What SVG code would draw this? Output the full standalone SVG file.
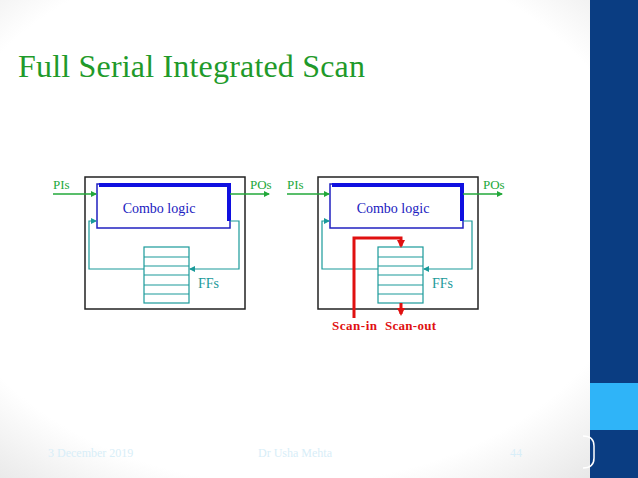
<svg xmlns="http://www.w3.org/2000/svg" width="638" height="478" viewBox="0 0 638 478">
<defs>
<radialGradient id="bg" cx="0.45" cy="0.45" r="0.75"><stop offset="0.75" stop-color="#fff"/><stop offset="1" stop-color="#e4e4e4"/></radialGradient>
<marker id="ag" markerWidth="6" markerHeight="6" refX="5" refY="3" orient="auto" markerUnits="userSpaceOnUse"><path d="M0,0L6,3L0,6z" fill="#22a83a"/></marker>
<marker id="at" markerWidth="6" markerHeight="6" refX="5" refY="3" orient="auto" markerUnits="userSpaceOnUse"><path d="M0,0L6,3L0,6z" fill="#1a9a9a"/></marker>
<marker id="ar" markerWidth="8" markerHeight="8" refX="6" refY="4" orient="auto" markerUnits="userSpaceOnUse"><path d="M0,0L8,4L0,8z" fill="#e01010"/></marker>
</defs>
<style>
.t{font-family:"Liberation Serif",serif}
.box{fill:none;stroke:#222;stroke-width:1.5}
.cl{fill:#fff;stroke:#2020c0;stroke-width:1.5}
.thick{fill:none;stroke:#1010e0;stroke-width:4}
.g{stroke:#22a83a;stroke-width:1.5;fill:none}
.tl{stroke:#1a9a9a;stroke-width:1.2;fill:none}
.ff{fill:#fff;stroke:#1a9a9a;stroke-width:1.2}
.red{stroke:#e01010;stroke-width:3;fill:none}
</style>
<rect width="638" height="478" fill="url(#bg)"/>
<rect x="590" y="0" width="48" height="478" fill="#0a3d82"/>
<rect x="590" y="383" width="48" height="47" fill="#2fb4f8"/>
<path d="M583,436 Q594,436 594,446 V458 Q594,468 583,468" fill="none" stroke="#fff" stroke-width="1.5"/>
<text class="t" x="18" y="77" font-size="32" textLength="347" fill="#1f9a2a">Full Serial Integrated Scan</text>
<g class="t" font-size="12" fill="#d8eef8">
<text x="48" y="457">3 December 2019</text>
<text x="258" y="457">Dr Usha Mehta</text>
<text x="510" y="457">44</text>
</g>
<g id="left">
<rect class="box" x="85" y="177" width="160" height="132"/>
<rect class="cl" x="97" y="184" width="133" height="44"/>
<path class="thick" d="M99,185H229V221"/>
<text class="t" x="159" y="213" font-size="14" fill="#2020c0" text-anchor="middle">Combo logic</text>
<g id="ffl">
<rect class="ff" x="144" y="247" width="45" height="56"/>
<path class="tl" d="M144,257H189M144,266H189M144,275H189M144,285H189M144,294H189"/>
</g>
<text class="t" x="198" y="288" font-size="14" fill="#1a9a9a">FFs</text>
<text class="t" x="53" y="189" font-size="13" fill="#22a83a">PIs</text>
<text class="t" x="250" y="189" font-size="13" fill="#22a83a">POs</text>
</g>
<g id="right">
<rect class="box" x="318" y="177" width="160" height="132"/>
<rect class="cl" x="330" y="184" width="133" height="44"/>
<path class="thick" d="M332,185H462V221"/>
<text class="t" x="393" y="213" font-size="14" fill="#2020c0" text-anchor="middle">Combo logic</text>
<g id="ffr">
<rect class="ff" x="378" y="247" width="45" height="56"/>
<path class="tl" d="M378,257H423M378,266H423M378,275H423M378,285H423M378,294H423"/>
</g>
<text class="t" x="432" y="288" font-size="14" fill="#1a9a9a">FFs</text>
<text class="t" x="287" y="189" font-size="13" fill="#22a83a">PIs</text>
<text class="t" x="483" y="189" font-size="13" fill="#22a83a">POs</text>
<text class="t" x="332" y="330" font-size="13" font-weight="bold" textLength="45" fill="#e01010">Scan-in</text>
<text class="t" x="385" y="330" font-size="13" font-weight="bold" textLength="51" fill="#e01010">Scan-out</text>
</g>
<g id="connectors">
<path class="g" d="M53,194H96" marker-end="url(#ag)"/>
<path class="g" d="M230,194H269" marker-end="url(#ag)"/>
<path class="tl" d="M230,221H239V269H190" marker-end="url(#at)"/>
<path class="tl" d="M144,269H89V221H96" marker-end="url(#at)"/>
<path class="g" d="M287,194H329" marker-end="url(#ag)"/>
<path class="g" d="M463,194H502" marker-end="url(#ag)"/>
<path class="tl" d="M463,221H472V269H424" marker-end="url(#at)"/>
<path class="tl" d="M378,269H322V221H329" marker-end="url(#at)"/>
<path class="red" d="M354,318V238H401V246" marker-end="url(#ar)"/>
<path class="red" d="M401,303V314" marker-end="url(#ar)"/>
</g>
</svg>
